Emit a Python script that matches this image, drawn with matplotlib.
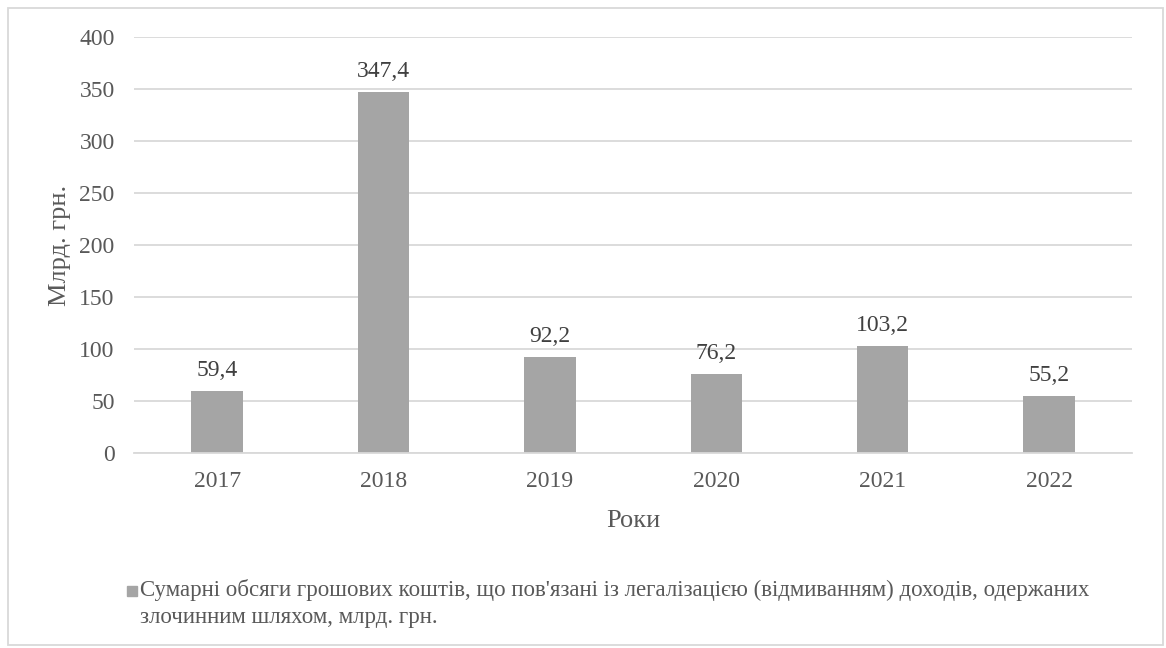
import matplotlib
matplotlib.use("Agg")
import matplotlib.pyplot as plt
from matplotlib.patches import Rectangle

# data
years = ["2017", "2018", "2019", "2020", "2021", "2022"]
values = [59.4, 347.4, 92.2, 76.2, 103.2, 55.2]
y_ticks = [0, 50, 100, 150, 200, 250, 300, 350, 400]
legend_label = ("Сумарні обсяги грошових коштів, що пов'язані із легалізацією (відмиванням) доходів, одержаних\n"
                "злочинним шляхом, млрд. грн.")

TEXT = "#595959"
BAR = "#a5a5a5"
GRID = "#d9d9d9"

plt.rcParams["font.family"] = ["Liberation Serif", "DejaVu Serif"]

fig = plt.figure(figsize=(11.66, 6.48), dpi=100)
ax = fig.add_axes([0.115, 0.301, 0.856, 0.642])

x = range(len(years))
ax.bar(x, values, width=0.31, color=BAR, zorder=2)

# value labels above bars
for xi, v in zip(x, values):
    ax.annotate(f"{v:.1f}".replace(".", ","), (xi, v), xytext=(0, 7),
                textcoords="offset points", ha="center", va="bottom",
                fontsize=17, color="#404040")

ax.set_xlim(-0.5, len(years) - 0.5)
ax.set_ylim(0, 400)
ax.set_yticks(y_ticks)
ax.set_xticks(list(x))
ax.set_xticklabels(years)
ax.tick_params(axis="both", length=0, labelsize=17, colors=TEXT)
ax.tick_params(axis="x", pad=13)
ax.tick_params(axis="y", pad=14)
ax.yaxis.grid(True, color=GRID, linewidth=1.3, zorder=0)
for s in ["top", "right", "left"]:
    ax.spines[s].set_visible(False)
ax.spines["bottom"].set_color(GRID)
ax.spines["bottom"].set_linewidth(1.3)

ax.set_xlabel("Роки", fontsize=19, color=TEXT, labelpad=13)
ax.set_ylabel("Млрд. грн.", fontsize=19, color=TEXT, labelpad=6)

# legend drawn by hand to get the two-line layout
fig.patches.append(Rectangle((127 / 1166, 1 - 596 / 648), 10 / 1166, 10 / 648,
                             transform=fig.transFigure, color=BAR))
fig.text(140 / 1166, 1 - 579 / 648, legend_label, fontsize=16.5, color=TEXT,
         va="top", ha="left", linespacing=1.35)

# outer border
fig.patches.append(Rectangle((8 / 1166, 3 / 648), 1155 / 1166, 637 / 648,
                             transform=fig.transFigure, fill=False,
                             edgecolor=GRID, linewidth=1.3))

fig.savefig("out.png", dpi=100)
